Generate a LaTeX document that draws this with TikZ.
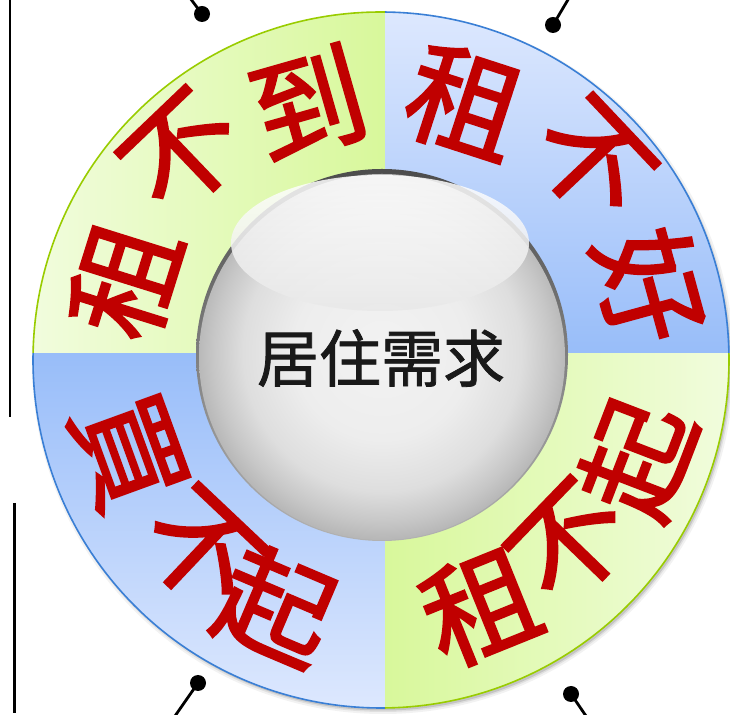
\documentclass[tikz,border=0pt]{standalone}
\usepackage{fontspec}
\newfontfamily\cjk[FakeBold=2]{Noto Sans CJK SC}
\newfontfamily\cjkc[FakeBold=1.3]{Noto Sans CJK SC}
\usetikzlibrary{calc}
\definecolor{txtred}{HTML}{C00000}
\definecolor{gpale}{HTML}{F1FCDD}
\definecolor{gdeep}{HTML}{D8F89B}
\definecolor{bpale}{HTML}{DDE8FE}
\definecolor{bdeep}{HTML}{98BDF9}
\definecolor{gline}{HTML}{99CC00}
\definecolor{bline}{HTML}{3A7FD5}
\pgfdeclareradialshading{ballshade}{\pgfpoint{0bp}{1bp}}{color(0bp)=(black!5); color(12bp)=(black!7); color(19bp)=(black!13); color(23bp)=(black!22); color(26bp)=(black!30); color(50bp)=(black!30)}
\begin{document}
\begin{tikzpicture}[x=1pt,y=1pt,
  ringtxt/.style={text=txtred, font=\cjk\fontsize{114}{114}\selectfont, inner sep=0pt, anchor=center},
  centertxt/.style={text=black!90, font=\cjkc\fontsize{62}{62}\selectfont, inner sep=0pt},
  dotnode/.style={circle, fill=black, inner sep=0pt, minimum size=16pt},
  conn/.style={line width=2.8pt, black},
  vline/.style={line width=2.7pt, black},
]
\useasboundingbox (0,0) rectangle (730,714);

% ring
\begin{scope}[shift={(381,354)}]
  \foreach \w/\o in {10/0.05, 6/0.08, 3/0.12}
    \draw[black, opacity=\o, line width=\w pt] (2,-3) circle (346);
  \shade[left color=gpale, right color=gdeep] (4,7) -- (89.34:348) arc[start angle=89.34, end angle=178.85, radius=348] -- cycle;
  \shade[top color=bpale, bottom color=bdeep] (4,7) -- (1.15:348) arc[start angle=1.15, end angle=89.34, radius=348] -- cycle;
  \shade[top color=bdeep, bottom color=bpale] (4,7) -- (178.85:348) arc[start angle=178.85, end angle=270.66, radius=348] -- cycle;
  \shade[left color=gdeep, right color=gpale] (4,7) -- (270.66:348) arc[start angle=270.66, end angle=361.15, radius=348] -- cycle;
  \draw[gline, line width=1.6pt] (89.34:348) arc[start angle=89.34, end angle=178.85, radius=348];
  \draw[bline, line width=1.6pt] (1.15:348) arc[start angle=1.15, end angle=89.34, radius=348];
  \draw[bline, line width=1.6pt] (178.85:348) arc[start angle=178.85, end angle=270.66, radius=348];
  \draw[gline, line width=1.6pt] (270.66:348) arc[start angle=270.66, end angle=361.15, radius=348];

  \node[ringtxt, rotate=72.6] (tl1) at (162.6:268) {租};
  \node[ringtxt, rotate=43.7] (tl2) at (133.7:286) {不};
  \node[ringtxt, rotate=15.9] (tl3) at (105.9:267) {到};

  \node[ringtxt, rotate=-18] (tr1) at (72:271) {租};
  \node[ringtxt, rotate=-46.6] (tr2) at (43.4:290) {不};
  \node[ringtxt, rotate=-74.7] (tr3) at (15.3:279) {好};

  \node[ringtxt, rotate=-70] (bl1) at (200:269) {買};
  \node[ringtxt, rotate=-43.4] (bl2) at (226.6:262) {不};
  \node[ringtxt, rotate=-23] (bl3) at (247:268) {起};

  \node[ringtxt, rotate=22] (br1) at (-68:266) {租};
  \node[ringtxt, rotate=46] (br2) at (-44:264) {不};
  \node[ringtxt, rotate=69] (br3) at (-21:275) {起};
\end{scope}

% sphere
\begin{scope}[shift={(382,359)}]
  \shade[top color=black!70, bottom color=black!30] (0,0) circle (186);
  \shade[shading=ballshade] (0,-2) circle (183);
  \shade[top color=white, bottom color=black!9, opacity=0.85] (-2,112) ellipse [x radius=149, y radius=68];
\end{scope}
\node[centertxt] (center) at (381,356) {居住需求};

% side lines
\coordinate (l1a) at (10,716);
\coordinate (l1b) at (10,297);
\draw[vline] (l1a) -- (l1b);
\coordinate (l2a) at (14.5,211);
\coordinate (l2b) at (14.5,1);
\draw[vline] (l2a) -- (l2b);

% dots with connectors
\node[dotnode] (d1) at (202,700) {};
\coordinate (e1) at (190,716);
\draw[conn] (d1.center) -- (e1);
\node[dotnode] (d2) at (553,689) {};
\coordinate (e2) at (569,716);
\draw[conn] (d2.center) -- (e2);
\node[dotnode] (d3) at (198,31) {};
\coordinate (e3) at (175,-2);
\draw[conn] (d3.center) -- (e3);
\node[dotnode] (d4) at (571,20) {};
\coordinate (e4) at (586,-2);
\draw[conn] (d4.center) -- (e4);
\end{tikzpicture}
\end{document}
